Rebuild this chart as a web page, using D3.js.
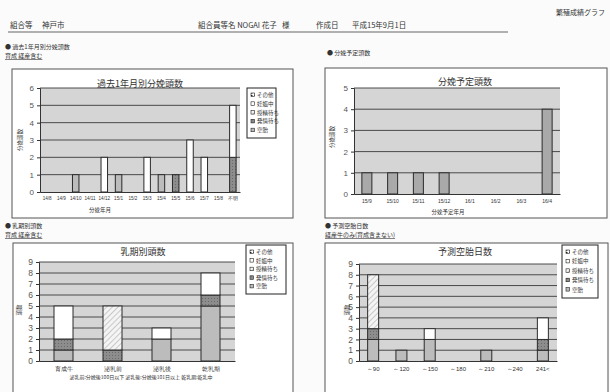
<!DOCTYPE html>
<html>
<head>
<meta charset="utf-8">
<script src="https://cdn.jsdelivr.net/npm/d3@7"></script>
<style>
  html, body { margin: 0; padding: 0; background: #fbfbfb; }
  svg { display: block; font-family: "Noto Sans CJK JP", "Noto Sans", sans-serif; }
</style>
</head>
<body>
<svg id="page"></svg>
<script>
'use strict';

// stack order, bottom -> top (legend shows it reversed, like Excel)
const seriesNames = ['空胎', '発情待ち', '授精待ち', '妊娠中', 'その他'];

// 過去1年月別分娩頭数
const calvMonths = ['14/8', '14/9', '14/10', '14/11', '14/12', '15/1', '15/2', '15/3', '15/4', '15/5', '15/6', '15/7', '15/8', '不明'];
const calvOpen = [0, 0, 1, 0, 0, 1, 0, 0, 1, 0, 0, 0, 0, 0];
const calvHeat = [0, 0, 0, 0, 0, 0, 0, 0, 0, 1, 0, 0, 0, 2];
const calvInsem = [0, 0, 0, 0, 0, 0, 0, 0, 0, 0, 0, 0, 0, 0];
const calvPreg = [0, 0, 0, 0, 2, 0, 0, 2, 0, 0, 3, 2, 0, 3];
const calvOther = [0, 0, 0, 0, 0, 0, 0, 0, 0, 0, 0, 0, 0, 0];

// 分娩予定頭数
const dueMonths = ['15/9', '15/10', '15/11', '15/12', '16/1', '16/2', '16/3', '16/4'];
const dueCounts = [1, 1, 1, 1, 0, 0, 0, 4];

// 乳期別頭数
const stages = ['育成牛', '泌乳前', '泌乳後', '乾乳期'];
const stageOpen = [1, 0, 2, 5];
const stageHeat = [1, 1, 0, 1];
const stageInsem = [0, 4, 0, 0];
const stagePreg = [3, 0, 1, 2];
const stageOther = [0, 0, 0, 0];

// 予測空胎日数
const dayBins = ['～90', '～120', '～150', '～180', '～210', '～240', '241<'];
const daysOpen = [2, 1, 2, 0, 1, 0, 1];
const daysHeat = [1, 0, 0, 0, 0, 0, 1];
const daysInsem = [5, 0, 0, 0, 0, 0, 0];
const daysPreg = [0, 0, 1, 0, 0, 0, 2];
const daysOther = [0, 0, 0, 0, 0, 0, 0];

const W = 610, H = 392;
const svg = d3.select('#page').attr('width', W).attr('height', H);

// patterns
const defs = svg.append('defs');
const hatch = defs.append('pattern').attr('id', 'hatch').attr('patternUnits', 'userSpaceOnUse')
  .attr('width', 4).attr('height', 4).attr('patternTransform', 'rotate(45)');
hatch.append('rect').attr('width', 4).attr('height', 4).attr('fill', '#f4f4f4');
hatch.append('line').attr('x1', 0).attr('y1', 0).attr('x2', 0).attr('y2', 4).attr('stroke', '#b5b5b5').attr('stroke-width', 1.4);
const dots = defs.append('pattern').attr('id', 'dots').attr('patternUnits', 'userSpaceOnUse').attr('width', 3).attr('height', 3);
dots.append('rect').attr('width', 3).attr('height', 3).attr('fill', '#8d8d8d');
dots.append('rect').attr('x', 1).attr('y', 1).attr('width', 1).attr('height', 1).attr('fill', '#6a6a6a');
const blackDots = defs.append('pattern').attr('id', 'bdots').attr('patternUnits', 'userSpaceOnUse').attr('width', 3).attr('height', 3);
blackDots.append('rect').attr('width', 3).attr('height', 3).attr('fill', '#fff');
blackDots.append('rect').attr('width', 1.5).attr('height', 1.5).attr('fill', '#222');

const fills = d3.scaleOrdinal()
  .domain(seriesNames)
  .range(['#bcbcbc', 'url(#dots)', 'url(#hatch)', '#ffffff', 'url(#bdots)']);

// ---- page header ----
const ink = '#333';
svg.append('text').attr('x', 605).attr('y', 15).attr('text-anchor', 'end')
  .attr('font-size', 7).attr('fill', ink).text('繁殖成績グラフ');

const header = [
  [10, '組合等'], [42, '神戸市'], [198, '組合員等名 NOGAI 花子'], [282, '様'],
  [316, '作成日'], [352, '平成15年9月1日']
];
svg.selectAll('.hdr').data(header).enter().append('text')
  .attr('x', d => d[0]).attr('y', 28).attr('font-size', 7.5).attr('fill', ink)
  .text(d => d[1]);
svg.append('line').attr('x1', 8).attr('x2', 508).attr('y1', 32).attr('y2', 32)
  .attr('stroke', '#666').attr('stroke-width', 1.2);

function sectionLabel(x, y, t, sub) {
  svg.append('text').attr('x', x).attr('y', y).attr('font-size', 6).attr('fill', ink).text('● ' + t);
  if (sub) {
    svg.append('text').attr('x', x).attr('y', y + 9).attr('font-size', 6).attr('fill', ink)
      .attr('text-decoration', 'underline').text(sub);
  }
}
sectionLabel(5, 49, '過去1年月別分娩頭数', '育成 経産含む');
sectionLabel(327, 55, '分娩予定頭数');
sectionLabel(5, 228, '乳期別頭数', '育成 経産含む');
sectionLabel(325, 228, '予測空胎日数', '経産牛のみ(育成含まない)');

// ---- generic chart ----
function drawChart(cfg) {
  const g = svg.append('g');
  g.append('rect').attr('x', cfg.box[0]).attr('y', cfg.box[1])
    .attr('width', cfg.box[2]).attr('height', cfg.box[3])
    .attr('fill', '#fff').attr('stroke', '#555').attr('stroke-width', 1);

  g.append('text').attr('x', cfg.titleXY[0]).attr('y', cfg.titleXY[1])
    .attr('text-anchor', 'middle').attr('font-size', 9).attr('fill', ink).text(cfg.title);

  const [px0, py0, px1, py1] = cfg.plot;
  const x = d3.scaleBand().domain(cfg.cats).range([px0, px1]).paddingInner(cfg.pad).paddingOuter(cfg.pad / 2);
  const y = d3.scaleLinear().domain([0, cfg.ymax]).range([py1, py0]);

  g.append('rect').attr('x', px0).attr('y', py0).attr('width', px1 - px0).attr('height', py1 - py0)
    .attr('fill', '#d5d5d5');

  // gridlines
  g.selectAll('.grid').data(d3.range(1, cfg.ymax + 1)).enter().append('line')
    .attr('x1', px0).attr('x2', px1)
    .attr('y1', d => y(d)).attr('y2', d => y(d))
    .attr('stroke', '#3a3a3a').attr('stroke-width', 0.9);

  // stacked bars
  const rows = cfg.cats.map((c, i) => {
    const r = { cat: c };
    cfg.series.forEach(s => { r[s.name] = s.values[i]; });
    return r;
  });
  const stack = d3.stack().keys(cfg.series.map(s => s.name))(rows);
  const bw = cfg.barW || x.bandwidth();
  stack.forEach(layer => {
    g.selectAll(null).data(layer.filter(d => d[1] > d[0])).enter().append('rect')
      .attr('x', d => x(d.data.cat) + (x.bandwidth() - bw) / 2)
      .attr('y', d => y(d[1]))
      .attr('width', bw)
      .attr('height', d => y(d[0]) - y(d[1]))
      .attr('fill', cfg.single ? cfg.single : fills(layer.key))
      .attr('stroke', '#2a2a2a').attr('stroke-width', 1);
  });

  // axes
  const ya = g.append('g').attr('transform', `translate(${px0},0)`)
    .call(d3.axisLeft(y).ticks(cfg.ymax).tickFormat(d3.format('d')).tickSize(3));
  ya.selectAll('text').attr('font-size', cfg.yFont || 8).attr('fill', '#555')
    .attr('font-family', 'Liberation Sans, sans-serif');
  ya.select('.domain').attr('stroke', '#333');
  ya.selectAll('.tick line').attr('stroke', '#333');

  const xa = g.append('g').attr('transform', `translate(0,${py1})`)
    .call(d3.axisBottom(x).tickSize(0).tickPadding(cfg.xPad || 5));
  xa.selectAll('text').attr('font-size', cfg.xFont || 5.5).attr('fill', ink);
  xa.select('.domain').attr('stroke', '#333');

  if (cfg.xTitle) {
    g.append('text').attr('x', cfg.xTitle[0]).attr('y', cfg.xTitle[1]).attr('text-anchor', 'middle')
      .attr('font-size', 5.5).attr('fill', ink).text(cfg.xTitle[2]);
  }
  if (cfg.yTitle) {
    g.append('text').attr('transform', `translate(${cfg.yTitle[0]},${cfg.yTitle[1]}) rotate(-90)`)
      .attr('text-anchor', 'middle').attr('font-size', 5.5).attr('fill', ink).text(cfg.yTitle[2]);
  }

  if (cfg.legend) {
    const [lx, ly, lw, lh] = cfg.legend;
    const lg = g.append('g');
    lg.append('rect').attr('x', lx).attr('y', ly).attr('width', lw).attr('height', lh)
      .attr('fill', '#fff').attr('stroke', '#222').attr('stroke-width', 1);
    const names = seriesNames.slice().reverse();
    const step = (lh - 6) / names.length;
    const item = lg.selectAll('.li').data(names).enter().append('g')
      .attr('transform', (d, i) => `translate(${lx + 4},${ly + 4 + i * step})`);
    item.append('rect').attr('y', 1).attr('width', 3.5).attr('height', 3.5)
      .attr('fill', d => fills(d)).attr('stroke', '#222').attr('stroke-width', 0.6);
    item.append('text').attr('x', 6).attr('y', 5).attr('font-size', 5.5).attr('fill', ink).text(d => d);
  }
}

function series(vals) {
  return seriesNames.map((n, i) => ({ name: n, values: vals[i] }));
}

drawChart({
  box: [12, 69, 281, 149], title: '過去1年月別分娩頭数', titleXY: [140, 87],
  plot: [40, 88, 240, 192], cats: calvMonths, ymax: 6, pad: 0.55, barW: 6.5,
  series: series([calvOpen, calvHeat, calvInsem, calvPreg, calvOther]),
  legend: [247, 88, 29, 50], xTitle: [100, 212, '分娩年月'], yTitle: [22, 140, '分娩頭数'],
  xFont: 4.6, xPad: 5
});

drawChart({
  box: [325, 68, 282, 150], title: '分娩予定頭数', titleXY: [465, 85],
  plot: [354, 88, 560, 194], cats: dueMonths, ymax: 5, pad: 0.6, barW: 10,
  series: [{ name: 'n', values: dueCounts }], single: '#a9a9a9',
  xTitle: [448, 214, '分娩予定年月'], yTitle: [334, 137, '分娩頭数'], xFont: 5, xPad: 5
});

drawChart({
  box: [13, 243, 280, 160], title: '乳期別頭数', titleXY: [143, 255],
  plot: [39, 262, 235, 361], cats: stages, ymax: 9, pad: 0.62, barW: 19,
  series: series([stageOpen, stageHeat, stageInsem, stagePreg, stageOther]),
  legend: [246, 245, 40, 49], yTitle: [21, 310, '頭数'], xFont: 6, xPad: 6, yFont: 8.5
});
svg.append('text').attr('x', 141).attr('y', 379).attr('text-anchor', 'middle').attr('font-size', 5)
  .attr('fill', ink).text('泌乳前:分娩後100日以下 泌乳後:分娩後101日以上 乾乳期:乾乳中');

drawChart({
  box: [325, 243, 283, 160], title: '予測空胎日数', titleXY: [465, 255],
  plot: [359, 264, 557, 361], cats: dayBins, ymax: 9, pad: 0.6, barW: 11,
  series: series([daysOpen, daysHeat, daysInsem, daysPreg, daysOther]),
  legend: [562, 245, 36, 53], yTitle: [349, 310, '頭数'], xFont: 6, xPad: 6, yFont: 8.5
});
</script>
</body>
</html>
